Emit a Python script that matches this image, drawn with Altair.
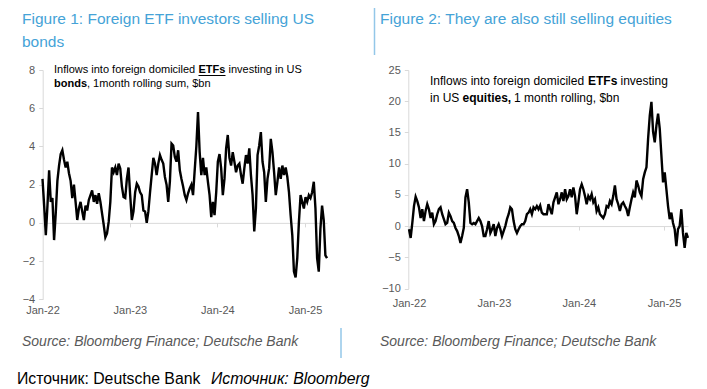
import altair as alt
import pandas as pd

# ---------------- data ----------------
bond_flows = [
    2.3, 0.9, -0.65, 0.9, 2.75, 1.1, 1.3, -0.9, 0.5, 2.2, 3.0, 3.6, 3.8, 3.3, 2.9, 3.2, 2.6, 2.2, 1.3, 2.0,
    1.1, 0.15, 0.75, 1.1, 0.6, 0.15, 0.9, 0.65, 1.2, 1.45, 1.7, 1.1, 1.45, 1.0, 1.55, 1.1, 0.5, -0.1, -0.75, -0.55,
    0.05, 1.1, 2.9, 2.65, 2.9, 2.5, 3.1, 2.85, 1.9, 1.35, 1.3, 2.3, 2.9, 1.45, 0.15, 0.6, 1.6, 2.05, 1.9, 1.6,
    1.45, 0.65, 0.6, 0.0, 0.6, 1.6, 2.5, 3.4, 3.1, 2.5, 3.1, 3.55, 3.3, 3.1, 2.4, 2.0, 1.1, 2.15, 4.15, 4.05,
    3.45, 3.2, 3.8, 2.75, 2.3, 1.9, 1.45, 1.2, 1.55, 1.8, 2.0, 1.45, 2.75, 4.0, 5.8, 3.7, 2.5, 3.4, 2.5, 2.9,
    2.15, 1.45, 0.3, 1.1, 0.4, 1.6, 3.2, 3.6, 2.85, 1.45, 2.3, 3.9, 4.6, 3.4, 3.0, 3.7, 3.2, 2.65, 3.0,
    3.1, 2.5, 2.05, 2.85, 3.55, 3.1, 3.9, 2.5, 1.45, -0.45, 0.75, 3.55, 4.05, 4.75, 3.2, 2.65, 1.1, 2.3, 2.85, 4.4,
    3.7, 2.65, 1.45, 2.15, 2.9, 2.3, 3.0, 2.5, 2.9, 2.4, 1.6, 0.4, -0.65, -2.55, -2.85, -1.85, 0.05, 1.45, 1.1, 0.75,
    1.35, 1.1, 1.45, 1.3, 1.6, 2.15, 0.75, -1.85, -2.55, -0.3, 0.9, 0.15, -1.7, -1.85,
]
equity_flows = [
    -0.5, -1.9, 0.5, 3.2, 4.7, 4.0, 3.0, 1.3, 2.7, 0.8, 2.4, 3.5, 2.7, 1.3, 2.15, 0.3, 0.8, 1.9, 2.7, 3.0,
    1.9, 1.1, 0.3, 0.5, 2.15, 1.6, 0.8, 0.5, -0.3, -0.8, -1.6, -2.7, -1.6, -0.3, 4.6, 5.9, 3.8, 0.5, 0.3, 0.5,
    0.3, 0.8, 1.3, 0.8, 0.0, -1.6, -1.6, -0.5, 0.8, -1.1, -0.5, 0.3, -1.6, -0.3, 0.3, -0.5, -1.6, -0.8, 0.0, 1.1,
    1.9, 3.0, 2.7, 0.8, -0.5, -1.1, -0.5, 0.0, 0.3, 0.3, 0.8, 1.9, 2.15, 2.7, 1.9, 3.0, 2.7, 3.2, 2.7, 3.3,
    2.15, 1.9, 1.9,
    1.9, 3.5, 2.7, 1.9, 3.8, 4.6, 5.4, 3.5, 4.3, 5.4, 4.0, 5.9, 4.3, 4.8, 5.9, 4.6, 6.2, 4.8, 1.9, 3.8,
    5.9, 6.7, 5.9, 4.8, 3.5, 4.8, 4.3, 5.1, 3.8, 4.3, 2.4, 3.0, 1.9, 1.6, 1.3, 1.9, 3.2, 3.0, 4.0, 3.5,
    4.8, 6.5, 4.3, 3.5, 2.4, 3.5, 3.8, 3.2, 2.7, 1.6, 3.0, 4.3, 5.4, 4.6, 7.3, 6.5, 5.4, 4.8, 7.5, 8.6,
    9.4, 14.0, 17.7, 19.9, 15.1, 13.4, 16.1, 18.0, 15.6, 11.3, 7.0, 8.6, 5.9, 3.2, 1.1, 2.15, 0.5, -0.5, -3.2, -0.5,
    0.0, 2.7, -1.1, -3.5, -1.1, -1.9,
]
bond_period = ("2022-01-01", "2025-04-03")
equity_period = ("2022-01-01", "2025-04-14")
year_ticks = [2022, 2023, 2024, 2025]
bond_ticks = [-4, -2, 0, 2, 4, 6, 8]
equity_ticks = [-10, -5, 0, 5, 10, 15, 20, 25]

title_1 = ["Figure 1: Foreign ETF investors selling US", "bonds"]
title_2 = "Figure 2: They are also still selling equities"
source_text = "Source: Bloomberg Finance; Deutsche Bank"
footer_a = "Источник: Deutsche Bank"
footer_b = "Источник: Bloomberg"

# ---------------- layout ----------------
W, H = 691, 381
FONT = "Liberation Sans"
BLUE = "#45a3d7"
LINEBLUE = "#93c7e8"
AXIS = "#d9d9d9"
LABEL = "#595959"


def P(v):
    return v - 8


def dt(s):
    t = pd.Timestamp(s)
    return alt.DateTime(year=t.year, month=t.month, date=t.day)


def panel(vals, period, x_axis, x_j22, x_j25, y_top, y_bot, ymin, ymax, ticks, label_pad):
    start, end = pd.Timestamp(period[0]), pd.Timestamp(period[1])
    j22, j25 = pd.Timestamp("2022-01-01"), pd.Timestamp("2025-01-01")
    ppd = (x_j25 - x_j22) / (j25 - j22).days
    x_end = x_j22 + ppd * (end - j22).days
    y_zero = y_bot + (y_top - y_bot) * (0 - ymin) / (ymax - ymin)
    df = pd.DataFrame({"date": pd.date_range(start, end, periods=len(vals)), "v": vals})
    return alt.Chart(df).mark_line(color="black", strokeWidth=2.4).encode(
        x=alt.X(
            "date:T",
            scale=alt.Scale(domain=[dt(j22), dt(end)], range=[P(x_j22), P(x_end)]),
            axis=alt.Axis(
                orient="bottom", offset=P(y_zero) - H, values=[dt(f"{y}-01-01") for y in year_ticks],
                format="%b-%y", labelPadding=label_pad, tickSize=4, labelFlush=False, labelOverlap=False,
                grid=False, title=None, domainColor=AXIS, tickColor=AXIS, labelColor=LABEL,
                labelFont=FONT, labelFontSize=11,
            ),
        ),
        y=alt.Y(
            "v:Q",
            scale=alt.Scale(domain=[ymin, ymax], range=[P(y_bot), P(y_top)], nice=False, zero=False),
            axis=alt.Axis(
                orient="left", offset=-P(x_axis), values=ticks, tickSize=4, labelPadding=4,
                grid=False, title=None, domainColor=AXIS, tickColor=AXIS, labelColor=LABEL,
                labelFont=FONT, labelFontSize=11,
            ),
        ),
    )


def txt(text, x, y, size, color="black", weight="normal", style="normal"):
    return alt.Chart(pd.DataFrame({"t": [text]})).mark_text(
        align="left", baseline="middle", font=FONT, fontSize=size, fontWeight=weight,
        fontStyle=style, color=color,
    ).encode(x=alt.value(P(x)), y=alt.value(P(y)), text="t:N")


def vline(x, y1, y2, color, w):
    return alt.Chart(pd.DataFrame({"a": [0]})).mark_rule(color=color, strokeWidth=w).encode(
        x=alt.value(P(x)), y=alt.value(P(y1)), y2=alt.value(P(y2)))


def hline(x1, x2, y, color, w):
    return alt.Chart(pd.DataFrame({"a": [0]})).mark_rule(color=color, strokeWidth=w).encode(
        x=alt.value(P(x1)), x2=alt.value(P(x2)), y=alt.value(P(y)))


left = panel(bond_flows, bond_period, 42.7, 42.5, 305, 70, 299.3, -4, 8, bond_ticks, 78)
right = panel(equity_flows, equity_period, 408.3, 409, 664, 70, 288.5, -10, 25, equity_ticks, 67)

layers = [
    left, right,
    txt(title_1[0], 22, 19, 15.5, BLUE),
    txt(title_1[1], 22, 42, 15.5, BLUE),
    txt(title_2, 380, 19, 15.5, BLUE),
    vline(374.5, 4, 55, LINEBLUE, 1.5),
    # annotation figure 1
    txt("Inflows into foreign domiciled", 54, 70, 11),
    txt("ETFs", 198.5, 70, 11, weight="bold"),
    hline(198.5, 225.5, 75.5, "black", 1),
    txt("investing in US", 228.5, 70, 11),
    txt("bonds", 54, 84, 11, weight="bold"),
    txt(", 1month rolling sum, $bn", 87, 84, 11),
    # annotation figure 2
    txt("Inflows into foreign domiciled", 430, 81, 12),
    txt("ETFs", 588, 81, 12, weight="bold"),
    txt("investing", 620.5, 81, 12),
    txt("in US", 430, 98, 12),
    txt("equities,", 462.5, 98, 12, weight="bold"),
    txt("1 month rolling, $bn", 514, 98, 12),
    # sources
    txt(source_text, 22, 342, 14, LABEL, style="italic"),
    txt(source_text, 380, 342, 14, LABEL, style="italic"),
    vline(341, 328, 358, LINEBLUE, 1.5),
    txt(footer_a, 17, 379, 15.8, "black"),
    txt(footer_b, 211, 379, 15.8, "black", style="italic"),
]

chart = alt.layer(*layers).resolve_scale(x="independent", y="independent").properties(
    width=W, height=H, autosize=alt.AutoSizeParams(type="none"), padding=0, background="white"
).configure_view(stroke=None)

chart.save("out.html", embed_options={"renderer": "svg", "actions": False})
